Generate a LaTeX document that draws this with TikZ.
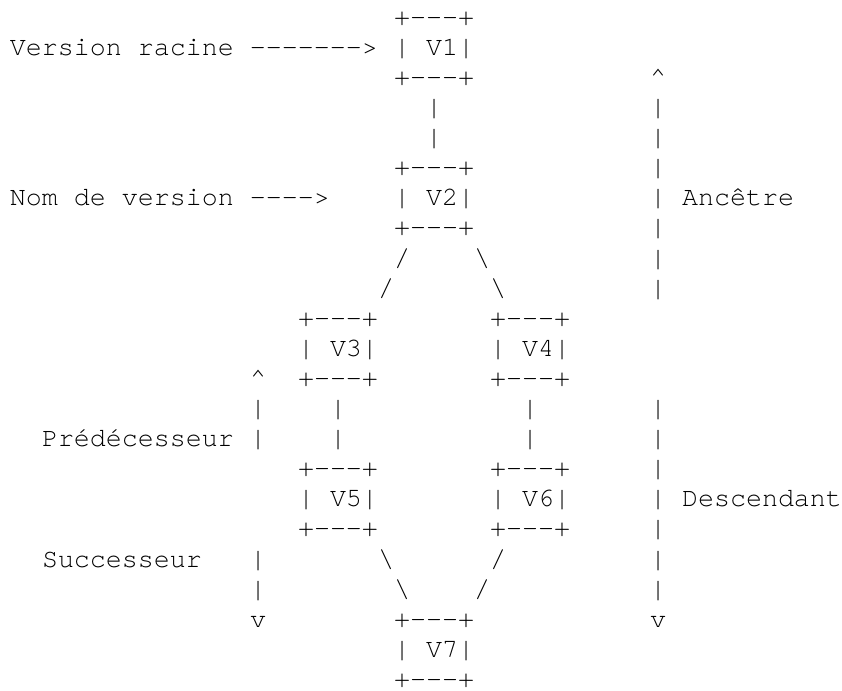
\documentclass[tikz,border=0pt]{standalone}
\usepackage{fontspec}
\setmonofont{TeX Gyre Cursor}
% fixed-pitch typesetting: every token takes one 8pt cell
\def\fpend{fpend-marker}
\newcommand\fp[1]{\fploop#1\fpend}
\def\fploop#1{\ifx#1\fpend\else\makebox[8pt][c]{#1}\expandafter\fploop\fi}
\tikzset{asc/.style={anchor=base west, inner sep=0pt, outer sep=0pt,
  font=\ttfamily\fontsize{13.333pt}{15pt}\selectfont, text=black}}
% \asc{name}{column}{row}{text}
\newcommand\asc[4]{\node[asc] (#1) at ({(5+8*(#2))*1pt},{-(12.6+15.05*(#3))*1pt}) {\fp{#4}};}
% \abox{name}{column}{row}{label}
\newcommand\abox[4]{%
  \asc{#1t}{#2}{#3}{+---+}%
  \asc{#1}{#2}{(#3)+1}{|~#4|}%
  \asc{#1b}{#2}{(#3)+2}{+---+}}
\begin{document}
\begin{tikzpicture}
\useasboundingbox (0,0) rectangle (421pt,-345.5pt);
% version boxes
\abox{va}{24}{0}{V1}
\abox{vb}{24}{5}{V2}
\abox{vc}{18}{10}{V3}
\abox{vd}{30}{10}{V4}
\abox{ve}{18}{15}{V5}
\abox{vf}{30}{15}{V6}
\abox{vg}{24}{20}{V7}
% labels with arrows
\asc{racine}{0}{1}{Version~racine~------->}
\asc{nom}{0}{6}{Nom~de~version~---->}
% V1 -- V2
\asc{ab1}{26}{3}{|}
\asc{ab2}{26}{4}{|}
% V2 -- V3 / V4
\asc{bc1}{24}{8}{/}
\asc{bc2}{23}{9}{/}
\asc{bd1}{29}{8}{\textbackslash}
\asc{bd2}{30}{9}{\textbackslash}
% V3 -- V5, V4 -- V6
\asc{ce1}{20}{13}{|}
\asc{ce2}{20}{14}{|}
\asc{df1}{32}{13}{|}
\asc{df2}{32}{14}{|}
% V5 / V6 -- V7
\asc{eg1}{23}{18}{\textbackslash}
\asc{eg2}{24}{19}{\textbackslash}
\asc{fg1}{30}{18}{/}
\asc{fg2}{29}{19}{/}
% Ancetre / Descendant axis
\asc{anctip}{40}{2}{\textasciicircum}
\foreach \r in {3,...,9} {\asc{anc\r}{40}{\r}{|}}
\asc{ancetre}{42}{6}{Ancêtre}
\foreach \r in {13,...,19} {\asc{desc\r}{40}{\r}{|}}
\asc{desctip}{40}{20}{v}
\asc{descendant}{42}{16}{Descendant}
% Predecesseur / Successeur axis
\asc{predtip}{15}{12}{\textasciicircum}
\asc{pred13}{15}{13}{|}
\asc{pred14}{15}{14}{|}
\asc{predecesseur}{2}{14}{Prédécesseur}
\asc{succ18}{15}{18}{|}
\asc{succ19}{15}{19}{|}
\asc{succtip}{15}{20}{v}
\asc{successeur}{2}{18}{Successeur}
\end{tikzpicture}
\end{document}
